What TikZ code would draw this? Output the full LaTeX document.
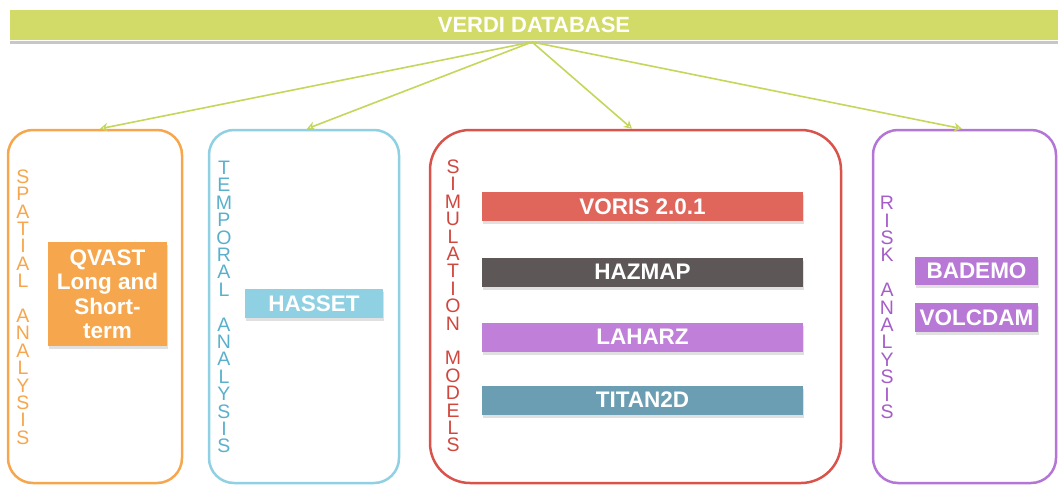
\documentclass[tikz,border=0pt]{standalone}
\usepackage{fontspec}
\setmainfont{Liberation Sans}
\usetikzlibrary{arrows.meta,shadows}
\definecolor{banner}{HTML}{D2DB68}
\definecolor{arrowc}{HTML}{C5D65A}
\definecolor{orangec}{HTML}{F6A64C}
\definecolor{bluec}{HTML}{8FD0E2}
\definecolor{bluet}{HTML}{5AB0CC}
\definecolor{redc}{HTML}{D9534A}
\definecolor{redt}{HTML}{D0473E}
\definecolor{vorisc}{HTML}{E0655A}
\definecolor{hazmapc}{HTML}{5E5757}
\definecolor{laharzc}{HTML}{C07FD9}
\definecolor{titanc}{HTML}{6B9EB2}
\definecolor{purplec}{HTML}{B476D6}
\definecolor{purplet}{HTML}{A65DC9}
\definecolor{bademoc}{HTML}{B878D6}
\begin{document}
\begin{tikzpicture}[x=1pt,y=-1pt,
  frame/.style={draw, line width=2.5pt, rounded corners=#1, inner sep=0pt},
  vlabel/.style={align=center, inner sep=0pt, font=\fontsize{19.5}{17.4}\selectfont},
  tool/.style={fill=#1, text=white, inner sep=0pt, align=center,
    font=\bfseries\fontsize{22.5}{24.5}\selectfont,
    drop shadow={shadow xshift=1pt, shadow yshift=-3pt, fill=black!40, opacity=0.3}},
  conn/.style={draw=arrowc, line width=1.6pt, -{Stealth[length=8pt,width=9pt,open,line width=1.2pt]}}
]
\useasboundingbox (0,0) rectangle (1058,485);

% banner
\draw[black!22, line width=2.5pt] (10,42.5) -- (1058,42.5);
\node[fill=banner, minimum width=1048pt, minimum height=30pt, inner sep=0pt,
  text=white, font=\bfseries\fontsize{22}{24}\selectfont] (db) at (534,25) {VERDI DATABASE};
\coordinate (src) at (532,42);

% frames
\node[frame=25pt, draw=orangec, minimum width=174pt, minimum height=353pt] (sp) at (95,306.5) {};
\node[frame=25pt, draw=bluec, minimum width=190pt, minimum height=353pt] (tp) at (304,306.5) {};
\node[frame=40pt, draw=redc, minimum width=411pt, minimum height=353pt] (sm) at (635.5,306.5) {};
\node[frame=25pt, draw=purplec, minimum width=183pt, minimum height=353pt] (rk) at (964.5,306.5) {};

% connectors
\draw[conn] (src) -- ([xshift=5pt]sp.north);
\draw[conn] (src) -- ([xshift=3pt]tp.north);
\draw[conn] (src) -- ([xshift=-3.5pt]sm.north);
\draw[conn] (src) -- ([xshift=-2.5pt]rk.north);

% vertical labels
\node[vlabel, text=orangec] (spl) at (23,307) {S\\P\\A\\T\\I\\A\\L\\\mbox{}\\A\\N\\A\\L\\Y\\S\\I\\S};
\node[vlabel, text=bluet] (tpl) at (224,307) {T\\E\\M\\P\\O\\R\\A\\L\\\mbox{}\\A\\N\\A\\L\\Y\\S\\I\\S};
\node[vlabel, text=redt] (sml) at (453,306) {S\\I\\M\\U\\L\\A\\T\\I\\O\\N\\\mbox{}\\M\\O\\D\\E\\L\\S};
\node[vlabel, text=purplet] (rkl) at (887,307.5) {R\\I\\S\\K\\\mbox{}\\A\\N\\A\\L\\Y\\S\\I\\S};

% tools
\node[tool=orangec, minimum width=119pt, minimum height=104pt] (qvast) at (107.5,294) {QVAST\\Long and\\Short-\\term};
\node[tool=bluec, minimum width=138pt, minimum height=29pt] (hasset) at (314,303.5) {HASSET};
\node[tool=vorisc, minimum width=321pt, minimum height=29pt] (voris) at (642.5,206.5) {VORIS 2.0.1};
\node[tool=hazmapc, minimum width=321pt, minimum height=29pt] (hazmap) at (642.5,272) {HAZMAP};
\node[tool=laharzc, minimum width=321pt, minimum height=29pt] (laharz) at (642.5,337) {LAHARZ};
\node[tool=titanc, minimum width=321pt, minimum height=29pt] (titan) at (642.5,400) {TITAN2D};
\node[tool=bademoc, minimum width=123pt, minimum height=28pt] (bademo) at (976.5,271) {BADEMO};
\node[tool=bademoc, minimum width=123pt, minimum height=29pt] (volcdam) at (976.5,317.5) {VOLCDAM};
\end{tikzpicture}
\end{document}
